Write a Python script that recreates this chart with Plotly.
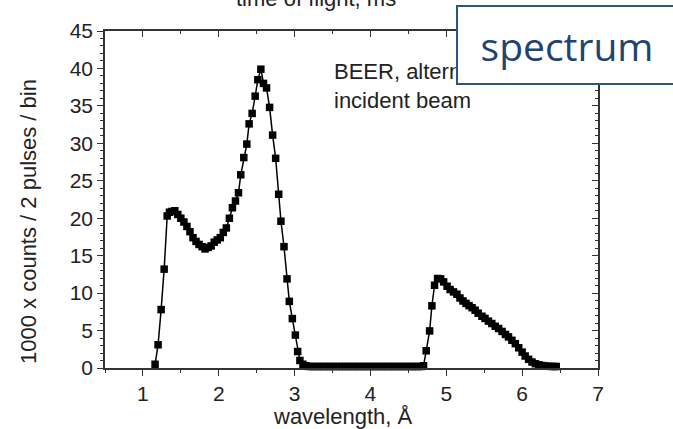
import plotly.graph_objects as go

# ---- data ----
wavelength = [
    1.16, 1.20, 1.24, 1.28, 1.32, 1.35, 1.38, 1.42, 1.46, 1.50,
    1.54, 1.58, 1.62, 1.66, 1.70, 1.74, 1.78, 1.82, 1.86, 1.90,
    1.94, 1.98, 2.02, 2.06, 2.10, 2.14, 2.18, 2.22, 2.26, 2.29,
    2.33, 2.37, 2.40, 2.44, 2.48, 2.515, 2.555, 2.59, 2.63, 2.67,
    2.71, 2.75, 2.79, 2.82, 2.86, 2.90, 2.93, 2.97, 3.01, 3.04,
    3.07, 3.11, 3.15,
    3.19, 3.23, 3.27, 3.31, 3.35, 3.39, 3.43, 3.47, 3.51, 3.55,
    3.59, 3.63, 3.67, 3.71, 3.75, 3.79, 3.83, 3.87, 3.91, 3.95,
    3.99, 4.03, 4.07, 4.11, 4.15, 4.19, 4.23, 4.27, 4.31, 4.35,
    4.39, 4.43, 4.47, 4.51, 4.55, 4.59, 4.63, 4.67,
    4.70, 4.735, 4.78, 4.81, 4.845, 4.885, 4.925, 4.965, 5.01, 5.05,
    5.095, 5.14, 5.18, 5.22, 5.26, 5.30, 5.34, 5.38, 5.42, 5.47,
    5.51, 5.555, 5.60, 5.645, 5.69, 5.735, 5.78, 5.82, 5.865, 5.91,
    5.955, 6.00, 6.04, 6.085, 6.13, 6.175, 6.22, 6.26, 6.30, 6.34,
    6.38, 6.42, 6.45,
]
counts = [
    0.5, 3.1, 7.8, 13.2, 20.3, 20.8, 20.9, 21.0, 20.5, 20.0,
    19.5, 18.9, 18.2, 17.4, 16.9, 16.5, 16.2, 15.9, 16.1, 16.3,
    16.8, 17.1, 17.4, 18.1, 18.7, 20.0, 21.4, 22.3, 23.4, 25.8,
    28.1, 29.9, 32.6, 34.0, 36.3, 38.5, 39.9, 38.0, 37.4, 34.8,
    31.1, 28.0, 23.2, 19.6, 16.2, 11.9, 8.9, 6.6, 4.4, 2.2,
    1.0, 0.5, 0.3,
    0.2, 0.2, 0.2, 0.2, 0.2, 0.2, 0.2, 0.2, 0.2, 0.2,
    0.2, 0.2, 0.2, 0.2, 0.2, 0.2, 0.2, 0.2, 0.2, 0.2,
    0.2, 0.2, 0.2, 0.2, 0.2, 0.2, 0.2, 0.2, 0.2, 0.2,
    0.2, 0.2, 0.2, 0.2, 0.2, 0.2, 0.2, 0.2,
    0.3, 2.3, 4.95, 8.3, 11.05, 11.95, 11.9, 11.5, 10.92, 10.48,
    10.16, 9.85, 9.35, 8.95, 8.62, 8.33, 8.05, 7.72, 7.32, 6.91,
    6.62, 6.26, 5.94, 5.57, 5.27, 4.88, 4.48, 4.15, 3.7, 3.25,
    2.7, 2.12, 1.6, 1.16, 0.8, 0.57, 0.42, 0.33, 0.27, 0.23,
    0.21, 0.2, 0.2,
]
x_range = [0.5, 7]
y_range = [0, 45]

# ---- layout geometry ----
W, H = 673, 429
L, R, T, B = 105, 75, 31, 61
PW, PH = W - L - R, H - T - B


def px(x, y):
    return (x - L) / PW, (H - B - y) / PH


FONT = "Liberation Sans"
TXT = "#222222"
AX = "#333333"

fig = go.Figure()
fig.add_trace(go.Scatter(
    x=wavelength, y=counts, mode="lines+markers",
    line=dict(color="black", width=1.5),
    marker=dict(symbol="square", size=7.5, color="black"),
    cliponaxis=False, showlegend=False,
))
fig.add_trace(go.Scatter(x=[], y=[], xaxis="x2", yaxis="y2",
                         showlegend=False, hoverinfo="skip"))

axis_common = dict(showline=True, linecolor=AX, linewidth=1.5, showgrid=False,
                   zeroline=False, tickcolor=AX, tickwidth=1.3,
                   tickfont=dict(family=FONT, size=21, color=TXT))

fig.update_layout(
    width=W, height=H, margin=dict(l=L, r=R, t=T, b=B),
    paper_bgcolor="white", plot_bgcolor="white",
    xaxis=dict(range=x_range, dtick=1, tick0=0, ticks="outside", ticklen=6,
               minor=dict(dtick=0.5, ticks="outside", ticklen=3, tickcolor=AX, showgrid=False),
               **axis_common),
    xaxis2=dict(range=x_range, overlaying="x", side="top", anchor="y", dtick=1, tick0=0,
                ticks="inside", ticklen=6, showticklabels=False,
                minor=dict(dtick=0.5, ticks="inside", ticklen=3, tickcolor=AX, showgrid=False),
                **axis_common),
    yaxis=dict(range=y_range, dtick=5, tick0=0, ticks="outside", ticklen=6,
               minor=dict(dtick=1, ticks="outside", ticklen=3, tickcolor=AX, showgrid=False),
               **axis_common),
    yaxis2=dict(range=y_range, overlaying="y", side="right", anchor="x", dtick=5, tick0=0,
                ticks="inside", ticklen=6, showticklabels=False,
                minor=dict(dtick=1, ticks="inside", ticklen=3, tickcolor=AX, showgrid=False),
                **axis_common),
)

ann = []
# top axis title (partly cut off at page top, as in the reference)
x0, y0 = px(316, 13)
ann.append(dict(text="time of flight, ms", x=x0, y=y0, xref="paper", yref="paper",
                xanchor="center", yanchor="bottom", showarrow=False,
                font=dict(family=FONT, size=22, color=TXT)))
# x axis title
x0, y0 = px(343, 416)
ann.append(dict(text="wavelength, Å", x=x0, y=y0, xref="paper", yref="paper",
                xanchor="center", yanchor="middle", showarrow=False,
                font=dict(family=FONT, size=22, color=TXT)))
# y axis title
x0, y0 = px(29, 222)
ann.append(dict(text="1000 x counts / 2 pulses / bin", x=x0, y=y0, xref="paper", yref="paper",
                xanchor="center", yanchor="middle", textangle=-90, showarrow=False,
                font=dict(family=FONT, size=22, color=TXT)))
# in-plot note
x0, y0 = px(332, 57)
ann.append(dict(text="BEER, alternative<br>incident beam", x=x0, y=y0, xref="paper", yref="paper",
                xanchor="left", yanchor="top", align="left", showarrow=False,
                font=dict(family=FONT, size=22, color=TXT)))
# "spectrum" label box, overlapping the note
x0, y0 = px(567, 45)
ann.append(dict(text="spectrum", x=x0, y=y0, xref="paper", yref="paper",
                xanchor="center", yanchor="middle", showarrow=False,
                width=218, height=76, borderpad=0,
                bgcolor="white", bordercolor="#2E5483", borderwidth=2,
                font=dict(family="Open Sans", size=39, color="#1F4472")))
fig.update_layout(annotations=ann)

fig.write_html("out.html")
